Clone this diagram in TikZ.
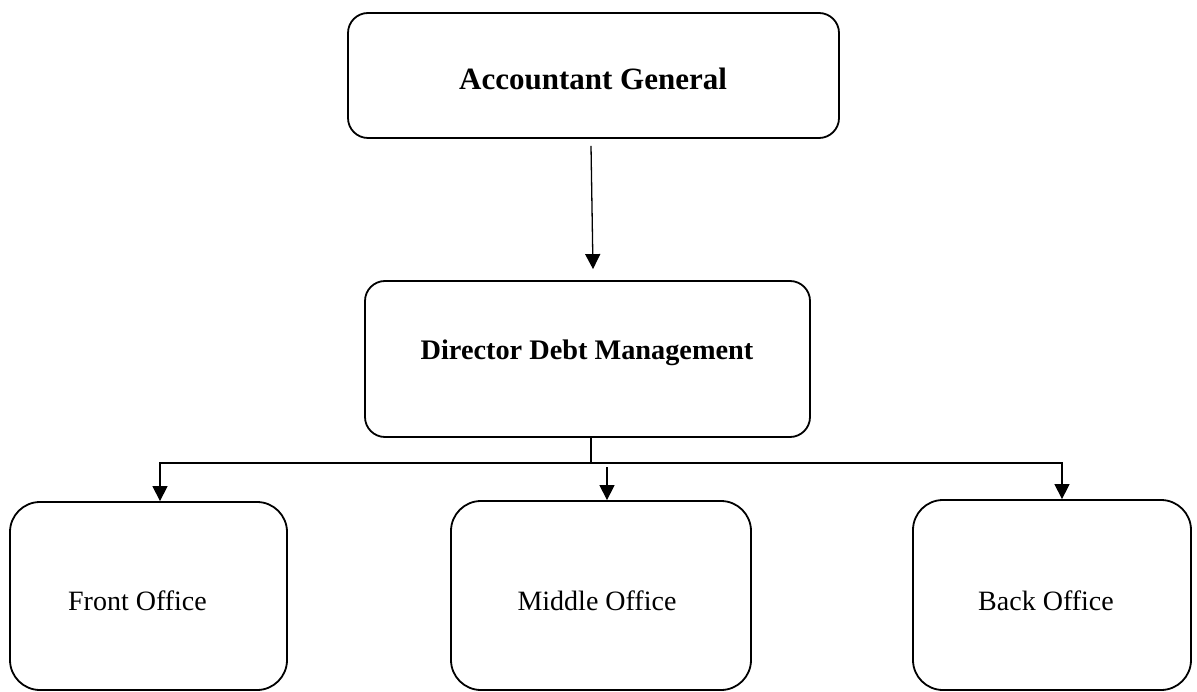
\documentclass[tikz,border=0pt]{standalone}
\usepackage{fontspec}
\setmainfont{Liberation Serif}
\usetikzlibrary{arrows.meta}
\tikzset{>={Triangle[width=15pt,length=15pt]}}
\tikzset{topbox/.style={draw, line width=1.8pt, rounded corners=20pt, inner sep=0pt},
         officebox/.style={draw, line width=1.8pt, rounded corners=30pt, inner sep=0pt},
         title/.style={anchor=base, font=\bfseries\fontsize{31}{34}\selectfont, inner sep=0pt},
         office/.style={anchor=base, font=\fontsize{28}{30}\selectfont, inner sep=0pt},
         link/.style={line width=1.3pt}}

\begin{document}
\begin{tikzpicture}[x=1pt, y=-1pt]
\useasboundingbox (0,0) rectangle (1197,692);
\node[topbox, minimum width=491pt, minimum height=125pt] (ag) at (593.5,75.5) {};
\node[topbox, minimum width=445pt, minimum height=156pt] (ddm) at (587.5,359) {};
\node[officebox, minimum width=277pt, minimum height=188pt] (front) at (148.5,596) {};
\node[officebox, minimum width=300pt, minimum height=189pt] (middle) at (601,595.5) {};
\node[officebox, minimum width=278pt, minimum height=190pt] (back) at (1052,595) {};
\node[title] (agtext) at (593,90) {Accountant General};
\node[title, font=\bfseries\fontsize{28.3}{31}\selectfont] (ddmtext) at (587,360) {Director Debt Management};
\node[office] (fronttext) at (137.5,610) {Front Office};
\node[office] (middletext) at (597,610) {Middle Office};
\node[office] (backtext) at (1046,610) {Back Office};
\coordinate (hub) at (591,463);
\draw[link, ->] ([shift={(-2.5,7)}]ag.south) -- ([shift={(5.5,-11)}]ddm.north);
\draw[link] ([xshift=3.5pt]ddm.south) -- (hub);
\draw[link, ->] (hub) -| ([xshift=11.5pt]front.north);
\draw[link, ->] (hub) -| ([xshift=10pt]back.north);
\draw[link, ->] ([shift={(6,-33)}]middle.north) -- ([xshift=6pt]middle.north);
\end{tikzpicture}
\end{document}
